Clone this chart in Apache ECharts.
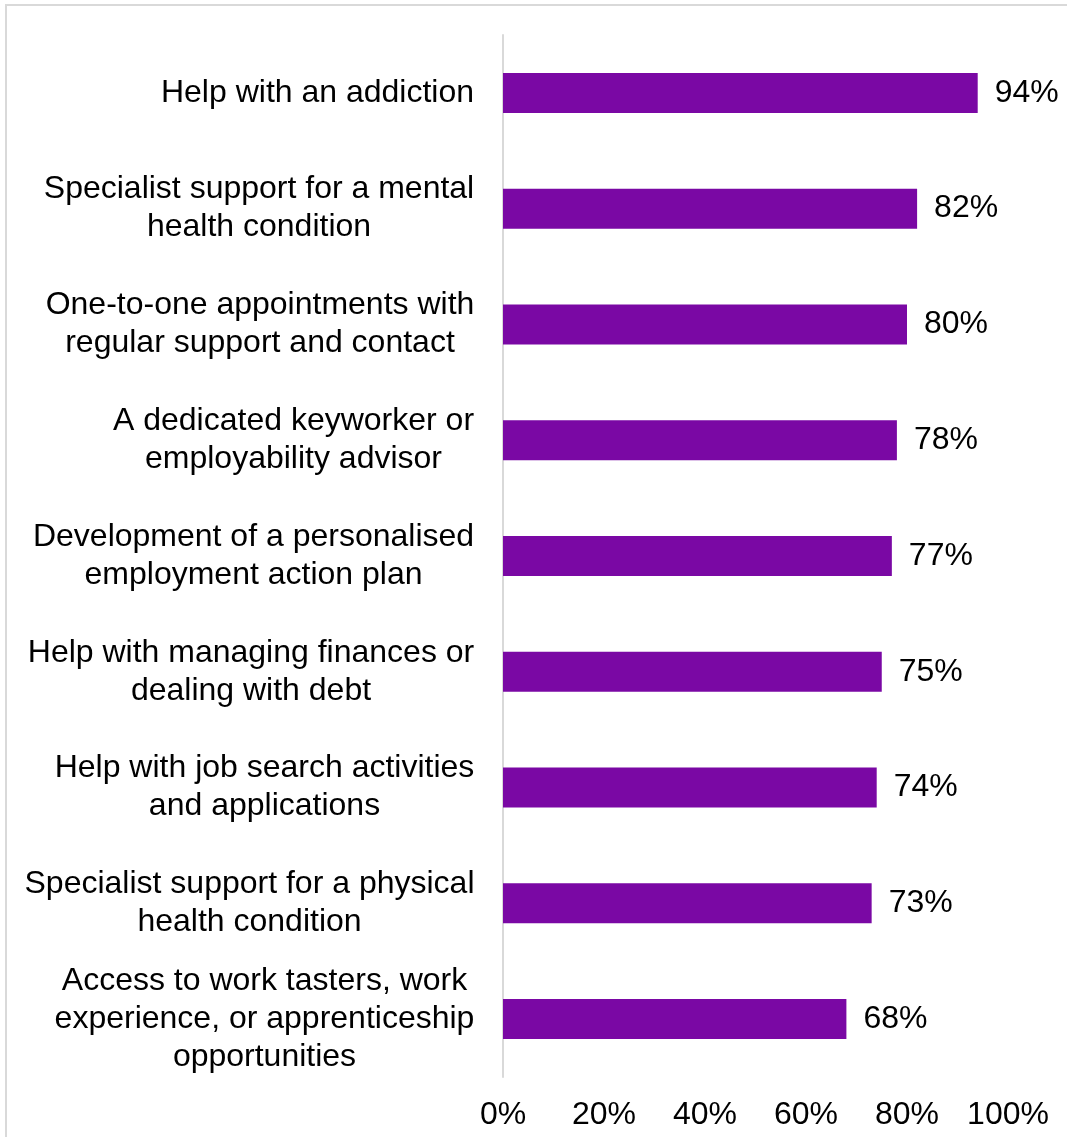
<!DOCTYPE html>
<html>
<head>
<meta charset="utf-8">
<script src="https://cdn.jsdelivr.net/npm/echarts@6/dist/echarts.min.js"></script>
<style>
  html, body { margin: 0; padding: 0; background: #fff; }
  #chart { width: 1067px; height: 1137px; }
</style>
</head>
<body>
<div id="chart"></div>
<script>
// Support types and share of respondents who found each helpful
const categories = [
  'Help with an addiction',
  'Specialist support for a mental\nhealth condition',
  'One-to-one appointments with\nregular support and contact',
  'A dedicated keyworker or\nemployability advisor',
  'Development of a personalised\nemployment action plan',
  'Help with managing finances or\ndealing with debt',
  'Help with job search activities\nand applications',
  'Specialist support for a physical\nhealth condition',
  'Access to work tasters, work\nexperience, or apprenticeship\nopportunities'
];
const values = [94, 82, 80, 78, 77, 75, 74, 73, 68];
const xTicks = [0, 20, 40, 60, 80, 100];

const FONT = '"Liberation Sans", Arial, sans-serif';
const FS = 32;
const LH = 38;

// Each multi-line label is right-anchored as a block, with its lines centred inside it
const ctx = document.createElement('canvas').getContext('2d');
ctx.font = FS + 'px ' + FONT;
const rich = {};
categories.forEach((c, i) => {
  const w = Math.max(...c.split('\n').map(s => ctx.measureText(s).width));
  rich['l' + i] = {
    width: Math.ceil(w) + 1, align: 'center',
    fontSize: FS, lineHeight: LH, fontFamily: FONT, color: '#000'
  };
});

const chart = echarts.init(document.getElementById('chart'), null, { renderer: 'canvas' });
chart.setOption({
  animation: false,
  backgroundColor: '#fff',
  graphic: [{
    type: 'rect',
    shape: { x: 6, y: 5, width: 1200, height: 1300 },
    style: { fill: 'none', stroke: '#d9d9d9', lineWidth: 2 },
    silent: true, z: -1
  }],
  grid: { left: 503, right: 59, top: 35, bottom: 60, containLabel: false },
  xAxis: {
    type: 'value',
    min: xTicks[0], max: xTicks[xTicks.length - 1], interval: xTicks[1] - xTicks[0],
    axisLine: { show: false }, axisTick: { show: false }, splitLine: { show: false },
    axisLabel: {
      formatter: '{value}%', fontSize: FS, fontFamily: FONT, color: '#000', margin: 22
    }
  },
  yAxis: {
    type: 'category', inverse: true, data: categories,
    axisLine: { show: true, lineStyle: { color: '#d9d9d9', width: 2 } },
    axisTick: { show: false },
    axisLabel: {
      margin: 28, align: 'right', rich: rich,
      formatter: (v, i) => v.split('\n').map(s => '{l' + i + '|' + s + '}').join('\n')
    }
  },
  series: [{
    type: 'bar', data: values, barWidth: 40,
    itemStyle: { color: '#7a08a4' },
    label: {
      show: true, position: 'right', distance: 17, formatter: '{c}%',
      fontSize: FS, fontFamily: FONT, color: '#000'
    }
  }]
});
</script>
</body>
</html>
